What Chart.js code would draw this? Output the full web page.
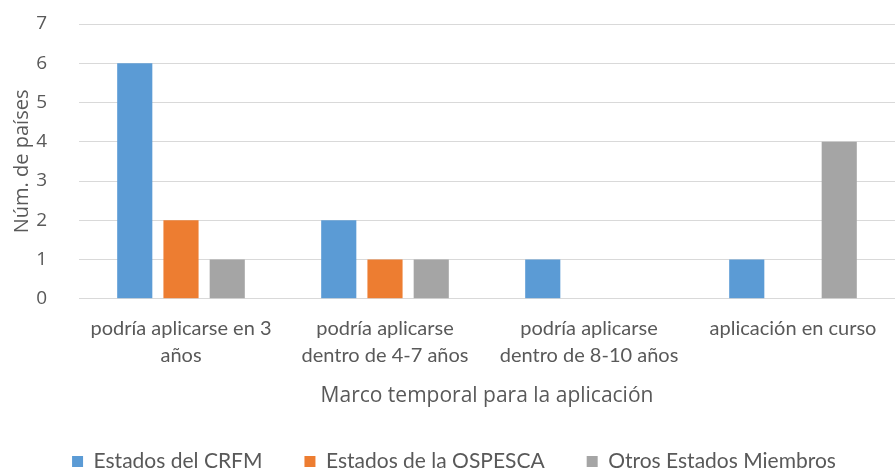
<!DOCTYPE html>
<html>
<head>
<meta charset="utf-8">
<script src="https://cdn.jsdelivr.net/npm/chart.js@4"></script>
<style>
  html, body { margin: 0; padding: 0; background: #fff; }
  #wrap { width: 895px; height: 473px; }
</style>
</head>
<body>
<div id="wrap"><canvas id="myChart"></canvas></div>
<script>
const categories = [
  ['podría aplicarse en 3', 'años'],
  ['podría aplicarse', 'dentro de 4-7 años'],
  ['podría aplicarse', 'dentro de 8-10 años'],
  ['aplicación en curso']
]
const crfm = [6, 2, 1, 1]
const ospesca = [2, 1, 0, 0]
const otros = [1, 1, 0, 4]
const yTicks = [0, 1, 2, 3, 4, 5, 6, 7]

const narrow = "Lato, sans-serif"
const wide = "'Open Sans', sans-serif"

const show = document.getElementById('myChart').getContext('2d')
const myChart = new Chart(show, {
  type: 'bar',
  data: {
    labels: categories,
    datasets: [
      { label: 'Estados del CRFM', data: crfm, backgroundColor: '#5b9bd5' },
      { label: 'Estados de la OSPESCA', data: ospesca, backgroundColor: '#ed7d31' },
      { label: 'Otros Estados Miembros', data: otros, backgroundColor: '#a5a5a5' },
    ],
  },
  options: {
    responsive: true,
    maintainAspectRatio: false,
    animation: false,
    datasets: { bar: { categoryPercentage: 0.68, barPercentage: 0.76 } },
    layout: { padding: { top: 24, left: 10, right: -3, bottom: -9 } },
    plugins: {
      tooltip: { enabled: false },
      legend: {
        position: 'bottom',
        labels: {
          boxWidth: 11, boxHeight: 11, color: '#595959', padding: 42,
          font: { family: narrow, size: 21 }
        }
      }
    },
    scales: {
      x: {
        afterFit: s => { s.paddingLeft = 0; s.paddingRight = 0 },
        grid: { display: false, drawTicks: false },
        border: { color: '#d9d9d9' },
        ticks: { color: '#595959', maxRotation: 0, autoSkip: false, padding: 16, font: { family: narrow, size: 20, lineHeight: 1.35 } },
        title: { display: true, text: 'Marco temporal para la aplicación', color: '#595959', font: { family: wide, size: 21 }, padding: { top: -1, bottom: 0 } }
      },
      y: {
        min: 0, max: 7,
        afterBuildTicks: axis => { axis.ticks = yTicks.map(v => ({ value: v })) },
        afterFit: s => { s.width = 69; s.paddingTop = 0; s.paddingBottom = 0 },
        grid: { color: '#d9d9d9', drawTicks: false },
        border: { display: false },
        ticks: { color: '#595959', padding: 32, font: { family: wide, size: 19 } },
        title: { display: true, text: 'Núm. de países', color: '#595959', font: { family: wide, size: 20 }, padding: { top: 0, bottom: 2 } }
      }
    }
  }
})
</script>
</body>
</html>
